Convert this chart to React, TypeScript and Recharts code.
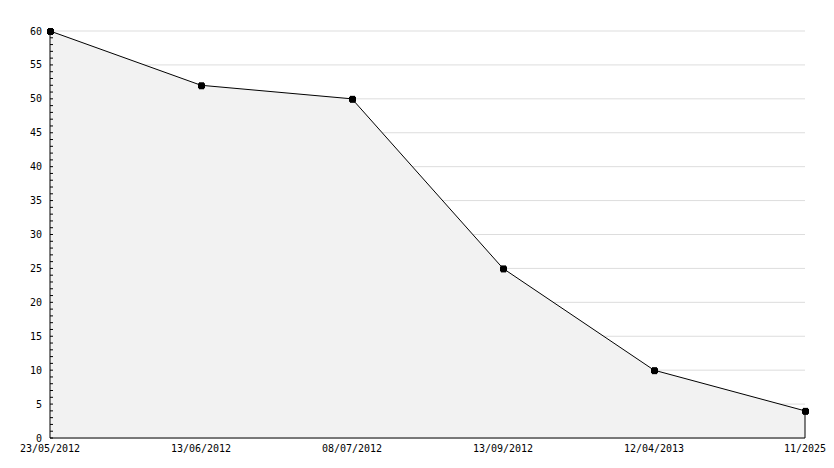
import { AreaChart, Area, XAxis, YAxis, CartesianGrid, ReferenceLine } from 'recharts';

const dates = ['23/05/2012', '13/06/2012', '08/07/2012', '13/09/2012', '12/04/2013', '11/2025'];
const values = [60, 52, 50, 25, 10, 4];
const majorTicks = [0, 5, 10, 15, 20, 25, 30, 35, 40, 45, 50, 55, 60];
const minorTicks = Array.from({ length: 61 }, (_, i) => i);

const data = dates.map((d, i) => ({ date: d, value: values[i] }));

const font = '"DejaVu Sans Mono", monospace';
const lastIndex = dates.length - 1;

function Marker(props: any) {
  const { cx, cy } = props;
  if (cx == null || cy == null) return null;
  return (
    <g fill="#000">
      <rect x={cx - 3} y={cy - 2} width={7} height={5} />
      <rect x={cx - 2} y={cy - 3} width={5} height={7} />
    </g>
  );
}

const EmptyTick = () => <g />;

export default function App() {
  return (
    <div style={{ position: 'absolute', left: 0, top: 0, width: 834, height: 468, background: '#fff' }}>
      <AreaChart width={834} height={468} data={data} margin={{ top: 31, right: 29, left: 0, bottom: 0 }}>
        <CartesianGrid stroke="#dddddd" vertical={false} horizontalValues={majorTicks} />
        <XAxis
          dataKey="date"
          axisLine={{ stroke: '#000' }}
          tickLine={false}
          tickSize={0}
          tickMargin={7}
          height={30}
          interval={0}
          tick={{ fill: '#000', fontSize: 10, fontFamily: font }}
        />
        <YAxis
          domain={[0, 60]}
          ticks={majorTicks}
          width={50}
          axisLine={{ stroke: '#000' }}
          tickLine={false}
          tickSize={0}
          tickMargin={8}
          interval={0}
          tick={{ fill: '#000', fontSize: 10, fontFamily: font }}
        />
        <Area
          type="linear"
          dataKey="value"
          stroke="#000"
          strokeWidth={1}
          fill="#f2f2f2"
          fillOpacity={1}
          dot={<Marker />}
          activeDot={false}
          isAnimationActive={false}
        />
        <ReferenceLine
          segment={[
            { x: dates[lastIndex], y: 0 },
            { x: dates[lastIndex], y: values[lastIndex] },
          ]}
          stroke="#000"
        />
      </AreaChart>
      {/* tick marks overlay: drawn above the area fill */}
      <div style={{ position: 'absolute', left: 0, top: 0 }}>
        <AreaChart width={834} height={468} data={data} margin={{ top: 31, right: 29, left: 50, bottom: 30 }}>
          <XAxis dataKey="date" hide />
          <YAxis
            domain={[0, 60]}
            ticks={minorTicks}
            mirror
            axisLine={false}
            tick={<EmptyTick />}
            tickSize={3}
            tickLine={{ stroke: '#000' }}
            interval={0}
          />
          <YAxis
            yAxisId="major"
            domain={[0, 60]}
            ticks={majorTicks}
            mirror
            axisLine={false}
            tick={<EmptyTick />}
            tickSize={5}
            tickLine={{ stroke: '#000' }}
            interval={0}
          />
          <Area dataKey="value" stroke="none" fill="none" isAnimationActive={false} activeDot={false} />
        </AreaChart>
      </div>
    </div>
  );
}
